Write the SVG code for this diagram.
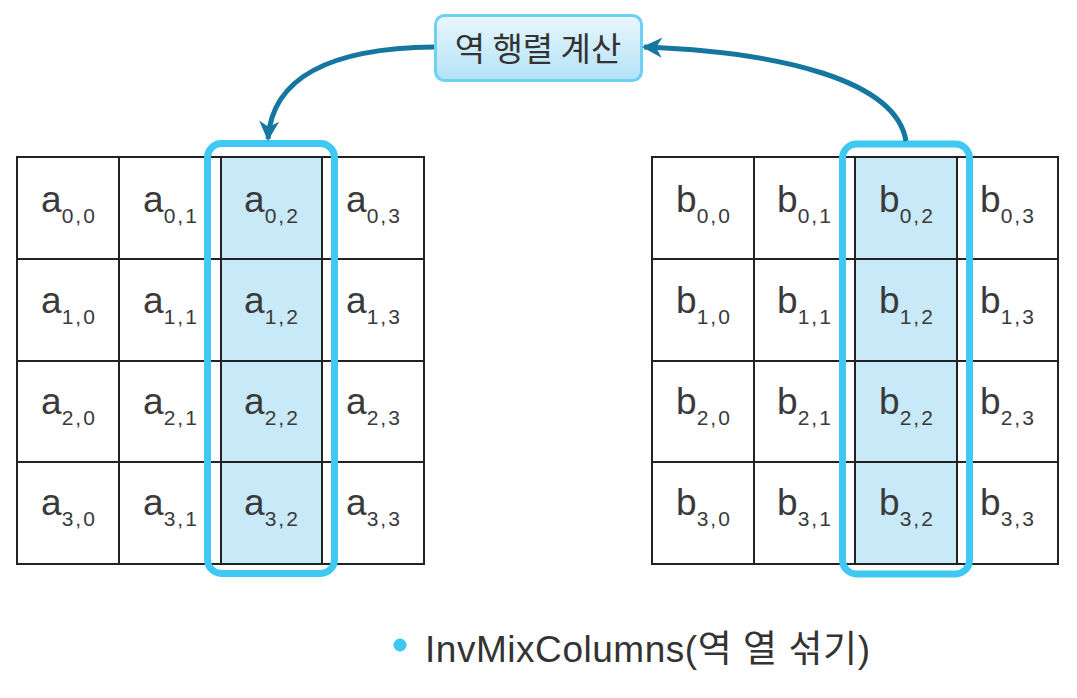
<svg xmlns="http://www.w3.org/2000/svg" width="1077" height="698" viewBox="0 0 1077 698">
<style>
.cell{fill:#fff;stroke:#222;stroke-width:2}
.hl{fill:#c8e9f8;stroke:#222;stroke-width:2}
.frame{fill:none;stroke:#3fc8f2;stroke-width:7}
.t{font-family:"Liberation Sans","Noto Sans CJK KR",sans-serif;font-size:37px;fill:#3a3a3a;text-anchor:middle}
.s{font-size:21px;letter-spacing:2px}
.conn{fill:none;stroke:#1577a0;stroke-width:5}
</style>
<defs>
<linearGradient id="lg" x1="0" y1="0" x2="0" y2="1">
<stop offset="0" stop-color="#e9f7fd"/>
<stop offset="1" stop-color="#b3e2f7"/>
</linearGradient>
<marker id="ah" viewBox="0 0 10 10" refX="9" refY="5" markerWidth="4" markerHeight="4" markerUnits="strokeWidth" orient="auto">
<path d="M0,0 L10,5 L0,10 L3,5 Z" fill="#1577a0"/>
</marker>
</defs>

<g id="matrixA">
<rect class="cell" x="17" y="157" width="102" height="102"/><rect class="cell" x="119" y="157" width="102" height="102"/><rect class="hl" x="221" y="157" width="101" height="102"/><rect class="cell" x="322" y="157" width="102" height="102"/>
<rect class="cell" x="17" y="259" width="102" height="102"/><rect class="cell" x="119" y="259" width="102" height="102"/><rect class="hl" x="221" y="259" width="101" height="102"/><rect class="cell" x="322" y="259" width="102" height="102"/>
<rect class="cell" x="17" y="361" width="102" height="101"/><rect class="cell" x="119" y="361" width="102" height="101"/><rect class="hl" x="221" y="361" width="101" height="101"/><rect class="cell" x="322" y="361" width="102" height="101"/>
<rect class="cell" x="17" y="462" width="102" height="102"/><rect class="cell" x="119" y="462" width="102" height="102"/><rect class="hl" x="221" y="462" width="101" height="102"/><rect class="cell" x="322" y="462" width="102" height="102"/>
<text class="t" x="69" y="212">a<tspan class="s" dy="11">0,0</tspan></text>
<text class="t" x="171" y="212">a<tspan class="s" dy="11">0,1</tspan></text>
<text class="t" x="272" y="212">a<tspan class="s" dy="11">0,2</tspan></text>
<text class="t" x="374" y="212">a<tspan class="s" dy="11">0,3</tspan></text>
<text class="t" x="69" y="313">a<tspan class="s" dy="11">1,0</tspan></text>
<text class="t" x="171" y="313">a<tspan class="s" dy="11">1,1</tspan></text>
<text class="t" x="272" y="313">a<tspan class="s" dy="11">1,2</tspan></text>
<text class="t" x="374" y="313">a<tspan class="s" dy="11">1,3</tspan></text>
<text class="t" x="69" y="414">a<tspan class="s" dy="11">2,0</tspan></text>
<text class="t" x="171" y="414">a<tspan class="s" dy="11">2,1</tspan></text>
<text class="t" x="272" y="414">a<tspan class="s" dy="11">2,2</tspan></text>
<text class="t" x="374" y="414">a<tspan class="s" dy="11">2,3</tspan></text>
<text class="t" x="69" y="515">a<tspan class="s" dy="11">3,0</tspan></text>
<text class="t" x="171" y="515">a<tspan class="s" dy="11">3,1</tspan></text>
<text class="t" x="272" y="515">a<tspan class="s" dy="11">3,2</tspan></text>
<text class="t" x="374" y="515">a<tspan class="s" dy="11">3,3</tspan></text>
<rect class="frame" x="207.5" y="143.5" width="127" height="430" rx="14"/>
</g>

<g id="matrixB">
<rect class="cell" x="652" y="157" width="102" height="102"/><rect class="cell" x="754" y="157" width="101" height="102"/><rect class="hl" x="855" y="157" width="102" height="102"/><rect class="cell" x="957" y="157" width="101" height="102"/>
<rect class="cell" x="652" y="259" width="102" height="102"/><rect class="cell" x="754" y="259" width="101" height="102"/><rect class="hl" x="855" y="259" width="102" height="102"/><rect class="cell" x="957" y="259" width="101" height="102"/>
<rect class="cell" x="652" y="361" width="102" height="101"/><rect class="cell" x="754" y="361" width="101" height="101"/><rect class="hl" x="855" y="361" width="102" height="101"/><rect class="cell" x="957" y="361" width="101" height="101"/>
<rect class="cell" x="652" y="462" width="102" height="102"/><rect class="cell" x="754" y="462" width="101" height="102"/><rect class="hl" x="855" y="462" width="102" height="102"/><rect class="cell" x="957" y="462" width="101" height="102"/>
<text class="t" x="704" y="212">b<tspan class="s" dy="11">0,0</tspan></text>
<text class="t" x="805" y="212">b<tspan class="s" dy="11">0,1</tspan></text>
<text class="t" x="907" y="212">b<tspan class="s" dy="11">0,2</tspan></text>
<text class="t" x="1008" y="212">b<tspan class="s" dy="11">0,3</tspan></text>
<text class="t" x="704" y="313">b<tspan class="s" dy="11">1,0</tspan></text>
<text class="t" x="805" y="313">b<tspan class="s" dy="11">1,1</tspan></text>
<text class="t" x="907" y="313">b<tspan class="s" dy="11">1,2</tspan></text>
<text class="t" x="1008" y="313">b<tspan class="s" dy="11">1,3</tspan></text>
<text class="t" x="704" y="414">b<tspan class="s" dy="11">2,0</tspan></text>
<text class="t" x="805" y="414">b<tspan class="s" dy="11">2,1</tspan></text>
<text class="t" x="907" y="414">b<tspan class="s" dy="11">2,2</tspan></text>
<text class="t" x="1008" y="414">b<tspan class="s" dy="11">2,3</tspan></text>
<text class="t" x="704" y="515">b<tspan class="s" dy="11">3,0</tspan></text>
<text class="t" x="805" y="515">b<tspan class="s" dy="11">3,1</tspan></text>
<text class="t" x="907" y="515">b<tspan class="s" dy="11">3,2</tspan></text>
<text class="t" x="1008" y="515">b<tspan class="s" dy="11">3,3</tspan></text>
<rect class="frame" x="842.5" y="144" width="127" height="430" rx="14"/>
</g>

<g id="label">
<rect x="435.5" y="15.5" width="206" height="65" rx="9" fill="url(#lg)" stroke="#6dd0f5" stroke-width="3"/>
<text x="538" y="61" style="font-family:'Noto Sans CJK KR',sans-serif;font-size:33px;fill:#333;text-anchor:middle">역 행렬 계산</text>
</g>

<g id="connectors">
<path class="conn" d="M434,47 C330,48 272,78 268,139" marker-end="url(#ah)"/>
<path class="conn" d="M906,141 C896,80 780,52 644,47" marker-end="url(#ah)"/>
</g>

<g id="caption">
<circle cx="400" cy="645" r="6.5" fill="#3fc8f2"/>
<text x="425" y="662" textLength="445" style="font-family:'Liberation Sans','Noto Sans CJK KR',sans-serif;font-size:37px;fill:#333">InvMixColumns(역 열 섞기)</text>
</g>
</svg>
